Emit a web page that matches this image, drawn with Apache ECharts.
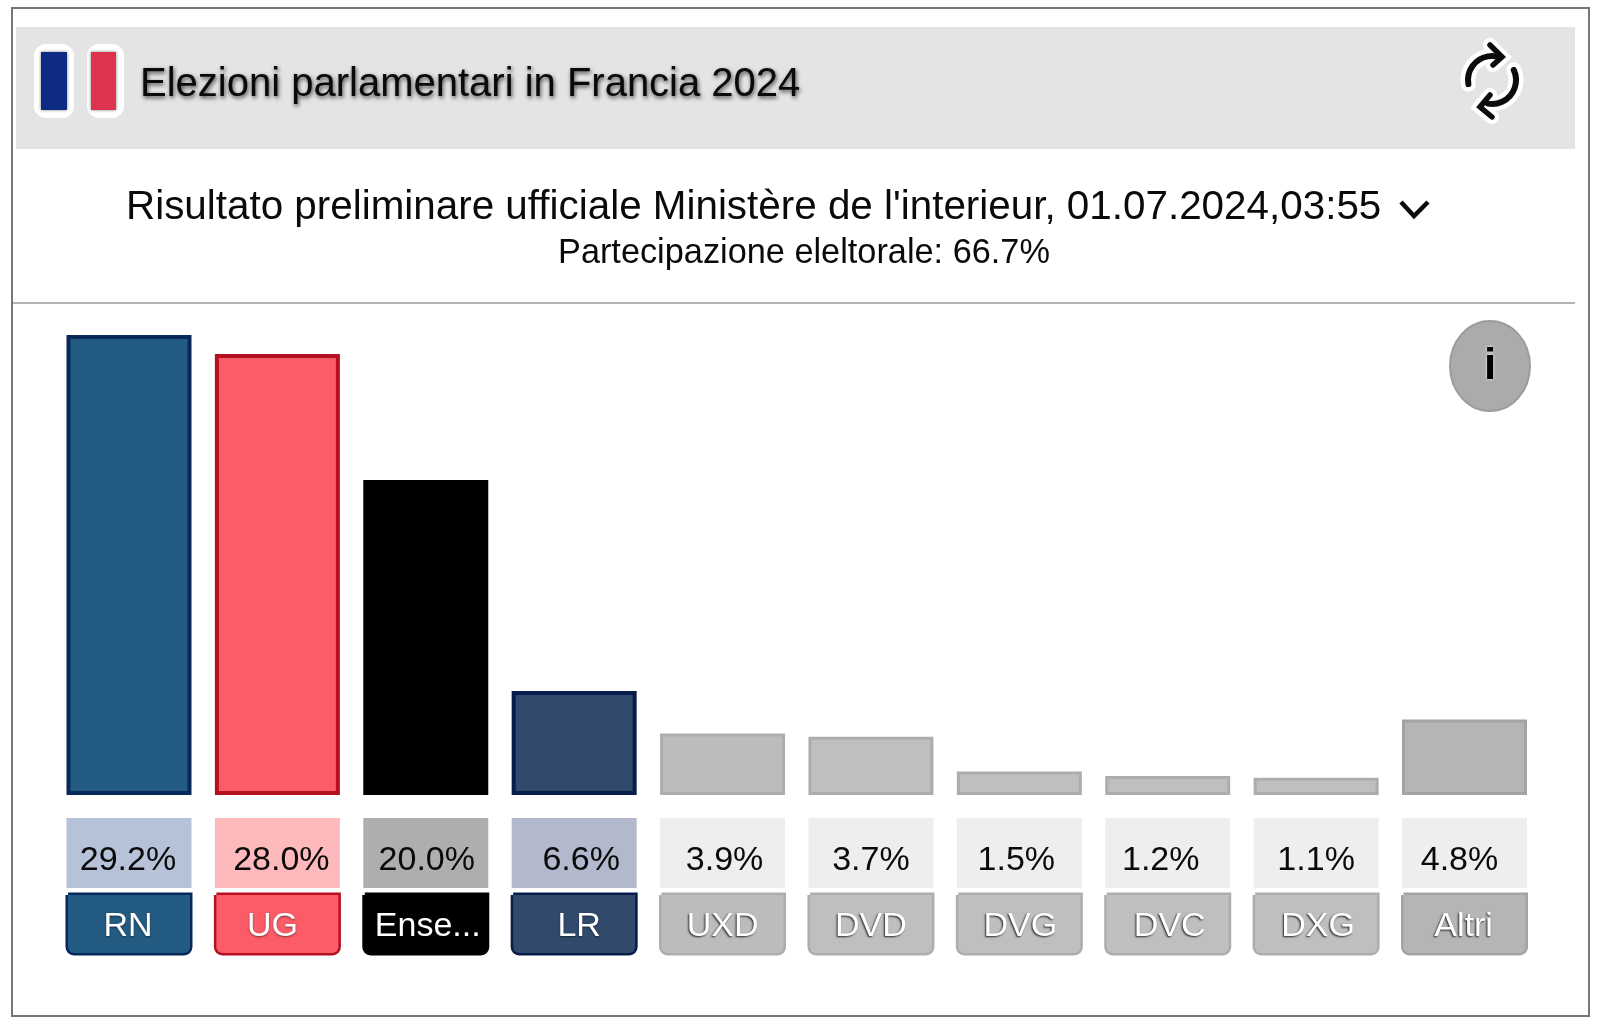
<!DOCTYPE html>
<html><head><meta charset="utf-8">
<style>html,body{margin:0;padding:0;background:#fff}#c{width:1600px;height:1027px}</style>
<script src="https://cdn.jsdelivr.net/npm/echarts@6/dist/echarts.min.js"></script>
</head><body><div id="c"></div>
<script>
const categories = ['RN','UG','Ense...','LR','UXD','DVD','DVG','DVC','DXG','Altri'];
const values = [29.2,28.0,20.0,6.6,3.9,3.7,1.5,1.2,1.1,4.8];
const barColors = ['#245b82','#fb5c68','#000000','#314a6b','#bcbcbc','#bfbfbf','#bfbfbf','#bfbfbf','#bfbfbf','#b5b5b5'];
const barBorders = ['#08285a','#b5101f','#000000','#081d4c','#adadad','#adadad','#adadad','#adadad','#adadad','#a3a3a3'];
const tileColors = ['#b5c2d8','#fdb9bc','#aeaeae','#b2b9cd','#eeeeee','#eeeeee','#eeeeee','#eeeeee','#eeeeee','#eeeeee'];
const pctShift = [-1,4,1,7,2,0,-3,-7,0,-5];
const nameShift = [-1,-5,2,5,0,0,1,2,2,-1];

const FONT = '"Liberation Sans", Arial, sans-serif';
const rich = { gap: { height: 5, lineHeight: 5, width: 125, fontSize: 1 } };
categories.forEach((c, i) => {
  const isGrey = i > 3;
  const pw = 125 - 2 * Math.abs(pctShift[i]);
  rich['p' + i] = {
    width: pw, height: 54, lineHeight: 70, align: 'center', verticalAlign: 'middle',
    backgroundColor: tileColors[i], fontSize: 34, color: '#0a0a0a', fontFamily: FONT,
    padding: [16, pctShift[i] < 0 ? -2 * pctShift[i] : 0, 0, pctShift[i] > 0 ? 2 * pctShift[i] : 0]
  };
  const nw = 122 - 2 * Math.abs(nameShift[i]);
  rich['n' + i] = {
    width: nw, height: 52, lineHeight: 62, align: 'center', verticalAlign: 'middle',
    backgroundColor: barColors[i], fontSize: 34, color: '#fff', fontFamily: FONT,
    borderRadius: [0, 0, 6, 6], borderColor: barBorders[i], borderWidth: 2.5,
    textShadowColor: isGrey ? 'rgba(30,30,30,0.95)' : 'rgba(0,0,0,0.5)',
    textShadowBlur: 2, textShadowOffsetX: isGrey ? -1 : 0, textShadowOffsetY: 1,
    padding: [6, nameShift[i] < 0 ? -2 * nameShift[i] : 0, 0, nameShift[i] > 0 ? 2 * nameShift[i] : 0]
  };
});

const chart = echarts.init(document.getElementById('c'), null, { renderer: 'canvas' });
const dark = '#0c0c0c';
const arcStyle = (stroke, lineWidth) => ({ fill: 'none', stroke, lineWidth, lineCap: 'round' });
const rad = d => d * Math.PI / 180;
const arcTop = { cx: 1492, cy: 80, r: 24, startAngle: rad(170), endAngle: rad(290), clockwise: true };
const arcBottom = { cx: 1492, cy: 80, r: 24, startAngle: rad(-25), endAngle: rad(100), clockwise: true };
const headTop = [[1490, 45], [1502, 57], [1493, 65]];
const headBottom = [[1490, 95], [1480, 107], [1492, 117]];
chart.setOption({
  animation: false,
  backgroundColor: '#fff',
  title: [
    { text: 'Elezioni parlamentari in Francia 2024', left: 135, top: 60,
      textStyle: { fontFamily: FONT, fontSize: 40, fontWeight: 'normal', color: '#0a0a0a',
        textShadowColor: 'rgba(0,0,0,0.7)', textShadowBlur: 4, textShadowOffsetX: 1, textShadowOffsetY: 2 } },
    { text: "Risultato preliminare ufficiale Ministère de l'interieur, 01.07.2024,03:55", left: 121, top: 183,
      textStyle: { fontFamily: FONT, fontSize: 40.4, fontWeight: 'normal', color: '#0a0a0a' } },
    { text: 'Partecipazione eleltorale: 66.7%', left: 553, top: 232,
      textStyle: { fontFamily: FONT, fontSize: 34.3, fontWeight: 'normal', color: '#0a0a0a' } }
  ],
  grid: { left: 54.8, width: 1483.9, top: 322.5, height: 472.5, containLabel: false },
  xAxis: {
    type: 'category', data: categories,
    axisLine: { show: false }, axisTick: { show: false },
    axisLabel: {
      interval: 0, margin: 23, hideOverlap: false,
      formatter: (v, i) => `{p${i}|${values[i].toFixed(1)}%}\n{gap| }\n{n${i}|${v}}`,
      rich
    }
  },
  yAxis: { type: 'value', min: 0, max: 30, show: false },
  series: [{
    type: 'bar', barWidth: 125,
    data: values.map((v, i) => ({ value: v, itemStyle: { color: barColors[i], borderColor: barBorders[i], borderWidth: i < 4 ? 4 : 3 } }))
  }],
  graphic: [
    { type: 'rect', z: -5, shape: { x: 12, y: 8, width: 1577, height: 1008 }, style: { fill: '#fff', stroke: '#777', lineWidth: 2 } },
    { type: 'rect', z: -4, shape: { x: 16, y: 27, width: 1559, height: 122 }, style: { fill: '#e4e4e4' } },
    { type: 'rect', z: -4, shape: { x: 13, y: 302, width: 1562, height: 2 }, style: { fill: '#b4b4b4' } },
    // flag
    { type: 'rect', shape: { x: 34, y: 44, width: 40, height: 74, r: 12 }, style: { fill: '#fff' } },
    { type: 'rect', shape: { x: 87, y: 44, width: 37, height: 74, r: 12 }, style: { fill: '#fff' } },
    { type: 'rect', shape: { x: 41, y: 52, width: 26, height: 58 }, style: { fill: '#0d2b82', shadowColor: 'rgba(0,0,0,.5)', shadowBlur: 3 } },
    { type: 'rect', shape: { x: 91, y: 52, width: 25, height: 58 }, style: { fill: '#dd3550', shadowColor: 'rgba(0,0,0,.5)', shadowBlur: 3 } },
    // refresh icon halo
    { type: 'arc', shape: arcTop, style: arcStyle('#fff', 15) },
    { type: 'arc', shape: arcBottom, style: arcStyle('#fff', 15) },
    { type: 'polyline', shape: { points: headTop }, style: arcStyle('#fff', 14) },
    { type: 'polyline', shape: { points: headBottom }, style: arcStyle('#fff', 14) },
    // refresh icon
    { type: 'arc', shape: arcTop, style: arcStyle(dark, 6) },
    { type: 'arc', shape: arcBottom, style: arcStyle(dark, 6) },
    { type: 'polyline', shape: { points: headTop }, style: arcStyle(dark, 5.5) },
    { type: 'polyline', shape: { points: headBottom }, style: arcStyle(dark, 5.5) },
    // chevron
    { type: 'polyline', shape: { points: [[1401, 202], [1414, 216], [1428, 202]] }, style: { fill: 'none', stroke: dark, lineWidth: 4.5 } },
    // info
    { type: 'ellipse', shape: { cx: 1490, cy: 366, rx: 40, ry: 45 }, style: { fill: '#ababab', stroke: '#9c9c9c', lineWidth: 2 } },
    { type: 'text', x: 1490, y: 367, style: { text: 'i', fontFamily: FONT, fontSize: 44, fontWeight: 'bold', fill: '#000', align: 'center', verticalAlign: 'middle', textShadowColor: '#fff', textShadowBlur: 3 } }
  ]
});
</script></body></html>
